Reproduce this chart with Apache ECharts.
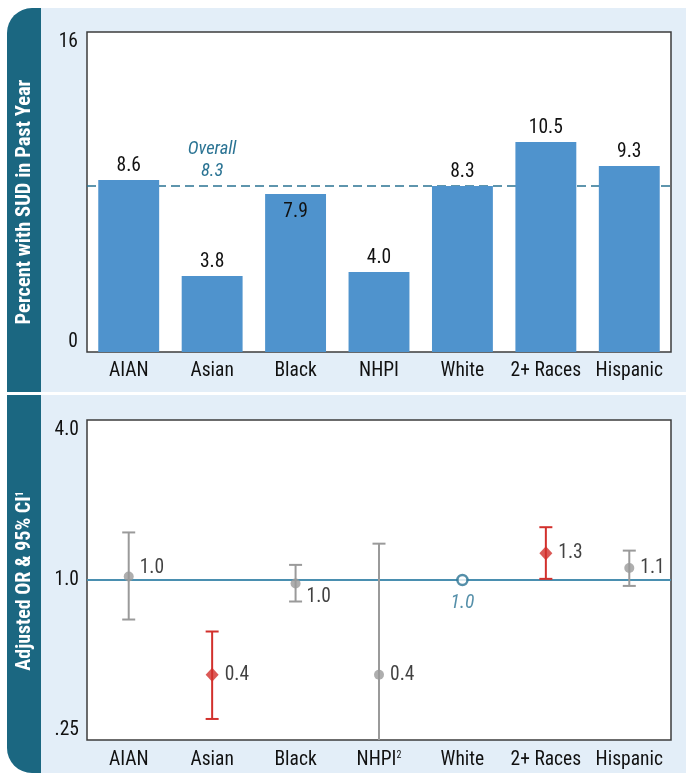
<!DOCTYPE html>
<html><head><meta charset="utf-8">
<script src="https://cdn.jsdelivr.net/npm/echarts@6/dist/echarts.min.js"></script>
<style>html,body{margin:0;padding:0;background:#fff}#c{width:686px;height:774px}</style>
</head><body><div id="c"></div><script>
// ---- data ----
const categories = ['AIAN', 'Asian', 'Black', 'NHPI', 'White', '2+ Races', 'Hispanic'];
const percentSUD = [8.6, 3.8, 7.9, 4.0, 8.3, 10.5, 9.3];
const overallSUD = 8.3;
const sudTicks = [0, 16];
const oddsRatio = [1.03, 0.44, 0.97, 0.44, 1.0, 1.26, 1.11];
const ciLower = [0.71, 0.30, 0.83, 0.20, null, 1.01, 0.95];
const ciUpper = [1.51, 0.64, 1.14, 1.37, null, 1.58, 1.29];
const orLabels = ['1.0', '0.4', '1.0', '0.4', '1.0', '1.3', '1.1'];
const orStatus = ['ns', 'sig', 'ns', 'ns', 'ref', 'sig', 'ns'];
const orTicks = [0.25, 1, 4];
const orTickLabels = ['.25', '1.0', '4.0'];
const footnotes = { 'NHPI': '2' };

// ---- style ----
const FONT = "'Liberation Sans Narrow','Arial Narrow','Roboto Condensed',Roboto,sans-serif";
const TEAL = '#1b6781', PANEL = '#e3eef8', BAR = '#4f93cd', GRAY = '#9a9a9a', RED = '#d2302c',
      REF = '#4a8fb0', TXT = '#111111', ITAL = '#2a7393';
const FS = 19.5;

const chart = echarts.init(document.getElementById('c'));

const barData = percentSUD.map((v, i) => {
  const item = { value: v };
  if (categories[i] === 'Black') item.label = { position: 'insideTop', distance: 8 };
  return item;
});

const markerData = oddsRatio.map((v, i) => {
  const st = orStatus[i];
  const item = { value: [i, v], label: { formatter: orLabels[i] } };
  if (st === 'sig') {
    item.symbol = 'diamond'; item.symbolSize = [13, 14];
    item.itemStyle = { color: RED };
  } else if (st === 'ns') {
    item.symbol = 'circle'; item.symbolSize = 10;
    item.itemStyle = { color: GRAY };
  } else {
    item.symbol = 'circle'; item.symbolSize = 10;
    item.itemStyle = { color: '#fff', borderColor: ITAL, borderWidth: 2.5 };
    item.label = { formatter: orLabels[i], position: 'bottom', distance: 7, fontStyle: 'italic', color: ITAL };
  }
  if (categories[i] === 'AIAN') item.label.offset = [0, -8];
  if (categories[i] === 'Black') item.label.offset = [0, 14];
  return item;
});

const ciData = [];
ciLower.forEach((lo, i) => { if (lo != null) ciData.push([i, lo, ciUpper[i]]); });

const axisMin = orTicks[0], axisMax = orTicks[orTicks.length - 1];

chart.setOption({
  animation: false,
  textStyle: { fontFamily: FONT },
  graphic: [
    { type: 'rect', z: -10, shape: { x: 7, y: 8, width: 679, height: 384, r: [25, 0, 0, 0] }, style: { fill: PANEL } },
    { type: 'rect', z: -9, shape: { x: 7, y: 8, width: 34, height: 384, r: [25, 0, 0, 0] }, style: { fill: TEAL } },
    { type: 'rect', z: -10, shape: { x: 7, y: 395, width: 679, height: 378, r: [0, 0, 0, 25] }, style: { fill: PANEL } },
    { type: 'rect', z: -9, shape: { x: 7, y: 395, width: 34, height: 378, r: [0, 0, 0, 25] }, style: { fill: TEAL } },
    { type: 'text', z: 10, x: 25, y: 202, rotation: Math.PI / 2,
      style: { text: 'Percent with SUD in Past Year', align: 'center', verticalAlign: 'middle',
               fill: '#fff', font: 'bold 20.5px ' + FONT } },
    { type: 'text', z: 10, x: 25, y: 581, rotation: Math.PI / 2,
      style: { text: 'Adjusted OR & 95% CI{sup|1}', align: 'center', verticalAlign: 'middle',
               fill: '#fff', font: 'bold 20px ' + FONT,
               rich: { sup: { fontSize: 10, fontWeight: 'bold', fontFamily: FONT, fill: '#fff', verticalAlign: 'top', padding: [0, 0, 7, 0] } } } }
  ],
  grid: [
    { left: 87, top: 32, width: 584, height: 320, show: true, backgroundColor: '#fff', borderColor: '#3c3c3c', borderWidth: 1.5 },
    { left: 87, top: 420, width: 584, height: 320, show: true, backgroundColor: '#fff', borderColor: '#3c3c3c', borderWidth: 1.5 }
  ],
  xAxis: [
    { type: 'category', gridIndex: 0, data: categories, axisLine: { show: false }, axisTick: { show: false },
      axisLabel: { interval: 0, fontSize: FS, color: TXT, margin: 9, fontFamily: FONT } },
    { type: 'category', gridIndex: 1, data: categories, axisLine: { show: false }, axisTick: { show: false },
      axisLabel: { interval: 0, fontSize: FS, color: TXT, margin: 10, fontFamily: FONT,
        formatter: v => footnotes[v] ? v + '{sup|' + footnotes[v] + '}' : v,
        rich: { sup: { fontSize: 10, color: TXT, fontFamily: FONT, verticalAlign: 'top', padding: [0, 0, 8, 0] } } } }
  ],
  yAxis: [
    { type: 'value', gridIndex: 0, min: sudTicks[0], max: sudTicks[1], interval: sudTicks[1] - sudTicks[0],
      splitLine: { show: false }, axisLine: { show: false }, axisTick: { show: false },
      axisLabel: { fontSize: FS, color: TXT, margin: 9, fontFamily: FONT,
        verticalAlignMinLabel: 'bottom', verticalAlignMaxLabel: 'top' } },
    { type: 'log', gridIndex: 1, logBase: 4, min: axisMin, max: axisMax,
      splitLine: { show: false }, axisLine: { show: false }, axisTick: { show: false },
      axisLabel: { fontSize: FS, color: TXT, margin: 8, fontFamily: FONT,
        verticalAlignMinLabel: 'bottom', verticalAlignMaxLabel: 'top',
        formatter: v => { const k = orTicks.findIndex(t => Math.abs(t - v) < 1e-6); return k >= 0 ? orTickLabels[k] : ''; } } }
  ],
  series: [
    { type: 'bar', xAxisIndex: 0, yAxisIndex: 0, data: barData, barCategoryGap: '27%', z: 2,
      itemStyle: { color: BAR },
      label: { show: true, position: 'top', distance: 4, fontSize: FS, color: TXT, fontFamily: FONT,
               formatter: p => p.value.toFixed(1) },
      markLine: { silent: true, z: 1, symbol: 'none', label: { show: false },
        lineStyle: { color: ITAL, width: 1.5, type: [9, 5] }, data: [{ yAxis: overallSUD }] },
      markPoint: { silent: true, symbol: 'circle', symbolSize: 0,
        data: [{ coord: ['Asian', overallSUD] }],
        label: { show: true, position: 'top', distance: 4, formatter: 'Overall\n' + overallSUD.toFixed(1),
                 fontStyle: 'italic', fontSize: 18.5, lineHeight: 22, color: ITAL, fontFamily: FONT } } },
    { type: 'custom', xAxisIndex: 1, yAxisIndex: 1, z: 3, data: ciData, encode: { x: 0, y: [1, 2] },
      renderItem: (params, api) => {
        const i = api.value(0), lo = api.value(1), hi = api.value(2);
        const color = orStatus[i] === 'sig' ? RED : GRAY;
        const pLo = api.coord([i, Math.max(lo, axisMin)]);
        const pHi = api.coord([i, Math.min(hi, axisMax)]);
        const hw = 6.5;
        const st = { stroke: color, lineWidth: 2 };
        const children = [
          { type: 'line', shape: { x1: pLo[0], y1: pLo[1], x2: pHi[0], y2: pHi[1] }, style: st }
        ];
        if (hi <= axisMax) children.push({ type: 'line', shape: { x1: pHi[0] - hw, y1: pHi[1], x2: pHi[0] + hw, y2: pHi[1] }, style: st });
        if (lo >= axisMin) children.push({ type: 'line', shape: { x1: pLo[0] - hw, y1: pLo[1], x2: pLo[0] + hw, y2: pLo[1] }, style: st });
        return { type: 'group', children };
      } },
    { type: 'scatter', xAxisIndex: 1, yAxisIndex: 1, z: 4, data: markerData,
      label: { show: true, position: 'right', distance: 6, fontSize: FS, color: TXT, fontFamily: FONT },
      markLine: { silent: true, z: 1, symbol: 'none', label: { show: false },
        lineStyle: { color: REF, width: 2, type: 'solid' }, data: [{ yAxis: 1 }] } }
  ]
});
</script></body></html>
